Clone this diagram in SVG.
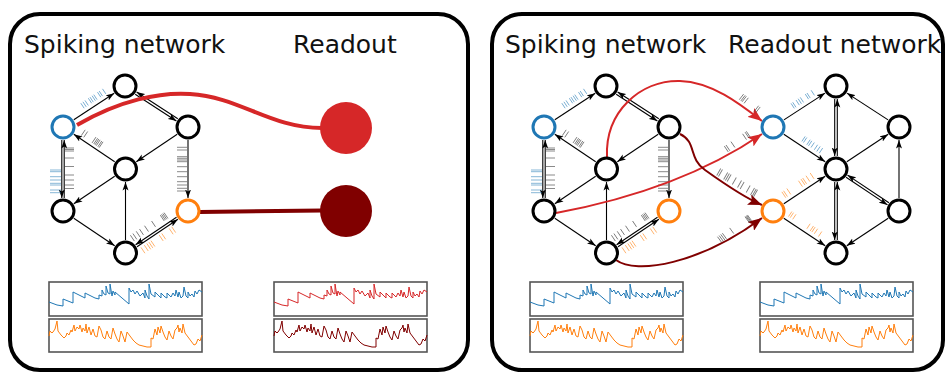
<svg xmlns="http://www.w3.org/2000/svg" xmlns:xlink="http://www.w3.org/1999/xlink" width="945" height="372" viewBox="0 0 945 372">
  <style>
    .panel { fill: none; stroke: #000; stroke-width: 4; }
    .title { font-family: "DejaVu Sans", "Liberation Sans", sans-serif; font-size: 25px; fill: #111; }
    .node { fill: #fff; stroke: #000; stroke-width: 3; }
    .node.blue { stroke: #1f77b4; }
    .node.orange { stroke: #ff7f0e; }
    .edges line { stroke: #000; stroke-width: 1.1; marker-end: url(#ah); }
    .tb { fill: none; stroke: #1f77b4; stroke-width: 0.9; opacity: 0.6; }
    .to { fill: none; stroke: #ff7f0e; stroke-width: 0.9; opacity: 0.6; }
    .tg { fill: none; stroke: #444; stroke-width: 0.9; opacity: 0.7; }
    .box { fill: none; stroke: #555; stroke-width: 1.6; }
    .trace { fill: none; stroke-width: 1; stroke-linejoin: round; }
  </style>
  <defs>
    <marker id="ah" markerUnits="userSpaceOnUse" viewBox="0 0 9 7" markerWidth="9" markerHeight="7" refX="8.5" refY="3.5" orient="auto">
      <path d="M0,0.5 L8.5,3.5 L0,6.5 L2,3.5z" fill="#000"/>
    </marker>
    <marker id="ahR" markerUnits="userSpaceOnUse" viewBox="0 0 14 11" markerWidth="14" markerHeight="11" refX="14" refY="5.5" orient="auto">
      <path d="M0,0 L14,5.5 L0,11 L3,5.5z" fill="#d62728"/>
    </marker>
    <marker id="ahM" markerUnits="userSpaceOnUse" viewBox="0 0 14 11" markerWidth="14" markerHeight="11" refX="14" refY="5.5" orient="auto">
      <path d="M0,0 L14,5.5 L0,11 L3,5.5z" fill="#800000"/>
    </marker>
    <!-- membrane potential traces, local box coordinates 153 x 34 -->
    <path id="trA" class="trace" d="M0,20 L8,23 L14,24 L14,17 L24,21 L24,10 L36,16 L36,11 L46,16 L50,17 L50,13 L53,14 L53,8 L55,12 L57,13 L57,4 L59,11 L61,12 L61,2 L63,14 L64,9 L66,13 L66,10 L80,22 L80,6 L82,10 L84,8 L86,12 L88,9 L91,14 L94,11 L96,16 L96,8 L98,14 L100,17 L100,2 L102,12 L106,15 L106,10 L110,14 L112,16 L112,11 L116,15 L118,16 L118,11 L122,15 L124,11 L126,14 L127,8 L129,15 L130,10 L132,16 L134,14 L135,5 L137,14 L139,16 L139,10 L141,14 L143,12 L145,15 L146,9 L148,12 L150,8 L153,10"/>
    <path id="trB" class="trace" d="M0,17 L1,12 L3,14 L4,13 L6,10 L8,2 L9,12 L12,16 L15,19 L17,17 L18,14 L20,16 L22,11 L23,13 L25,6 L26,12 L28,8 L30,10 L31,6 L33,13 L34,9 L36,12 L37,5 L38,14 L40,8 L42,16 L44,10 L46,17 L48,18 L50,7 L52,11 L54,18 L56,20 L58,12 L60,18 L62,20 L64,9 L66,15 L68,20 L70,23 L72,12 L74,17 L76,23 L78,13 L81,17 L84,21 L87,24 L90,26 L94,27 L98,28 L102,28 L102,19 L104,20 L106,10 L108,16 L109,8 L111,14 L112,7 L114,13 L116,18 L118,21 L120,12 L122,17 L124,20 L126,11 L128,9 L129,6 L130,13 L131,9 L133,14 L134,5 L136,14 L139,18 L142,22 L145,26 L147,25 L149,20 L151,22 L153,16"/>
  </defs>

  <rect x="0" y="0" width="945" height="372" fill="#fff"/>

  <!-- panels -->
  <rect class="panel" x="10" y="14" width="458" height="356" rx="30"/>
  <rect class="panel" x="492" y="14" width="451" height="356" rx="30"/>

  <text class="title" x="24" y="53">Spiking network</text>
  <text class="title" x="293" y="53">Readout</text>
  <text class="title" x="505" y="53">Spiking network</text>
  <text class="title" x="728" y="53">Readout network</text>

  <g id="connectors">
    <!-- spiking network connections with spike rasters -->
    <g id="edgesL" class="edges">
      <line x1="73.8" y1="119.8" x2="114.2" y2="93.2"/>
      <line x1="135.2" y1="94.2" x2="176.4" y2="121"/>
      <line x1="177.8" y1="118.8" x2="136.6" y2="92"/>
      <line x1="177.2" y1="134.3" x2="136.3" y2="161.7"/>
      <line x1="114.7" y1="161.7" x2="73.8" y2="134.3"/>
      <line x1="61.8" y1="140" x2="61.8" y2="198"/>
      <line x1="64.2" y1="198" x2="64.2" y2="140"/>
      <line x1="114.7" y1="176.3" x2="73.8" y2="203.7"/>
      <line x1="73.8" y1="218.3" x2="114.7" y2="245.7"/>
      <line x1="125.5" y1="240" x2="125.5" y2="182"/>
      <line x1="188" y1="140" x2="188" y2="198"/>
      <line x1="137" y1="246.8" x2="177.9" y2="219.3"/>
      <line x1="176.5" y1="217.2" x2="135.6" y2="244.7"/>
      <g transform="translate(63,127) rotate(-33.5)">
        <path class="tb" d="M28,-10v6M30.5,-10v6M33,-10v6M37,-10v6M39,-10v6M41.5,-10v6M43.5,-10v6M48,-10v6M50,-10v6M54,-10v6"/>
      </g>
      <g transform="translate(63,127) rotate(33.9)">
        <path class="tg" d="M20,-10v7M23,-10v7M33,-10v7M35,-10v7M36.5,-10v7M38,-10v7M40,-10v7M41.5,-10v7"/>
      </g>
      <path class="tb" d="M50,170h11M50,171.7h11M50,176.7h11M50,180h11M50,183.3h11M50,185h11M50,190h11M50,192.7h11"/>
      <path class="tg" d="M65,148h9M65,149.5h9M65,151h9M65,158h9M65,166.5h9M65,175h9M65,180h9M65,185h9M65,188.5h9"/>
      <path class="tg" d="M177,147.3h10M177,150h10M177,156.7h10M177,158.3h10M177,160h10M177,161.7h10M177,166.7h10M177,171.7h10M177,176.7h10M177,181.7h10M177,185h10M177,188.3h10M177,191h10"/>
      <g transform="translate(125.5,253) rotate(-33.9)">
        <path class="tg" d="M14,-12v7M17,-12v7M21,-12v7M25,-12v7M31,-12v7M39.5,-12v7M50,-12v7M51.5,-12v7M53,-12v7M54.5,-12v7"/>
        <path class="to" d="M16,4v7M20,4v7M23,4v7M25.5,4v7M28,4v7M38,4v7M41,4v7M50,4v7M53,4v7"/>
      </g>
    </g>
    <use xlink:href="#edgesL" href="#edgesL" transform="translate(481,0)"/>

    <!-- readout network connections -->
    <g id="edgesR" class="edges">
      <line x1="783.9" y1="119.9" x2="825.1" y2="93.1"/>
      <line x1="783.8" y1="134.2" x2="825.2" y2="161.8"/>
      <line x1="783.8" y1="203.8" x2="825.2" y2="176.2"/>
      <line x1="783.8" y1="218.2" x2="825.2" y2="245.8"/>
      <line x1="834.7" y1="99" x2="834.7" y2="156"/>
      <line x1="837.3" y1="156" x2="837.3" y2="99"/>
      <line x1="834.7" y1="182" x2="834.7" y2="240"/>
      <line x1="837.3" y1="240" x2="837.3" y2="182"/>
      <line x1="846.1" y1="177.3" x2="887.5" y2="204.9"/>
      <line x1="888.9" y1="202.7" x2="847.5" y2="175.1"/>
      <line x1="888.1" y1="119.9" x2="846.9" y2="93.1"/>
      <line x1="846.8" y1="161.8" x2="888.2" y2="134.2"/>
      <line x1="899" y1="198" x2="899" y2="140"/>
      <line x1="888.2" y1="218.2" x2="846.8" y2="245.8"/>
      <g transform="translate(773,127) rotate(-33)">
        <path class="tb" d="M28,-10v6M30,-10v6M34,-10v6M36.5,-10v6M39,-10v6M45,-10v6M47,-10v6M52,-10v6"/>
      </g>
      <g transform="translate(773,127) rotate(33.7)">
        <path class="tb" d="M32,-10v6M34,-10v6M38,-10v6M40,-10v6M43,-10v6M47,-10v6M50,-10v6M53,-10v6"/>
      </g>
      <g transform="translate(773,211) rotate(-33.7)">
        <path class="to" d="M18,-11v7M20,-11v7M24,-11v7M38,-11v7M41,-11v7M43,-11v7M47,-11v7M52,-11v7"/>
      </g>
      <g transform="translate(773,211) rotate(33.7)">
        <path class="to" d="M16,-10v6M18,-10v6M21,-10v6M38,-10v6M42,-10v6M44,-10v6M47,-10v6M52,-10v6"/>
      </g>
    </g>

    <!-- readout connections, left panel -->
    <path d="M77,125 C120,100 160,92 190,94 C240,97 270,128 322,128" fill="none" stroke="#d62728" stroke-width="4"/>
    <path d="M200,212 L322,210.5" fill="none" stroke="#800000" stroke-width="4"/>

    <!-- readout connections, right panel -->
    <path d="M607,157 C605,112 640,80 680,81 C712,82 740,104 762,121" fill="none" stroke="#d62728" stroke-width="2" marker-end="url(#ahR)"/>
    <path d="M556,213 Q680,190 762,134" fill="none" stroke="#d62728" stroke-width="2" marker-end="url(#ahR)"/>
    <path d="M680,134 C697,142 688,158 705,170 C726,185 745,198 762,205" fill="none" stroke="#800000" stroke-width="2" marker-end="url(#ahM)"/>
    <path d="M616,260 C636,275 700,264 762,218" fill="none" stroke="#800000" stroke-width="2" marker-end="url(#ahM)"/>
    <g transform="translate(762,121) rotate(37.7)">
      <path class="tg" d="M-31,-10v7M-29,-10v7M-27.5,-10v7M-25,-10v7M-12,-10v7M-10,-10v7"/>
    </g>
    <g transform="translate(762,134) rotate(-34)">
      <path class="tg" d="M-38,-11v7M-36,-11v7M-30,-11v7M-16,-11v7M-13,-11v7M-11.5,-11v7"/>
    </g>
    <g transform="translate(762,205) rotate(30)">
      <path class="tg" d="M-54,-11v8M-52,-11v8M-46,-11v8M-44,-11v8M-42,-11v8M-36,-11v8M-30,-11v8M-27,-11v8M-20,-11v8M-15,-11v8M-13,-11v8M-11.5,-11v8"/>
    </g>
    <g transform="translate(762,218) rotate(-36)">
      <path class="tg" d="M-47,-11v7M-45,-11v7M-43,-11v7M-41,-11v7M-32,-11v7M-13,-11v7M-12,-11v7M-11,-11v7M-10,-11v7"/>
    </g>
  </g>

  <!-- spiking network, left panel -->
  <g id="L-top"><circle class="node" cx="125" cy="86" r="11"/></g>
  <g id="L-upper-left"><circle class="node blue" cx="63" cy="127" r="11"/></g>
  <g id="L-upper-right"><circle class="node" cx="188" cy="127" r="11"/></g>
  <g id="L-center"><circle class="node" cx="125.5" cy="169" r="11"/></g>
  <g id="L-lower-left"><circle class="node" cx="63" cy="211" r="11"/></g>
  <g id="L-lower-right"><circle class="node orange" cx="188" cy="211" r="11"/></g>
  <g id="L-bottom"><circle class="node" cx="125.5" cy="253" r="11"/></g>

  <!-- readout units, left panel -->
  <g id="readout-red"><circle cx="346" cy="128" r="26" fill="#d62728"/></g>
  <g id="readout-maroon"><circle cx="346" cy="211" r="26" fill="#800000"/></g>

  <!-- spiking network, right panel -->
  <g id="R-top"><circle class="node" cx="606" cy="86" r="11"/></g>
  <g id="R-upper-left"><circle class="node blue" cx="544" cy="127" r="11"/></g>
  <g id="R-upper-right"><circle class="node" cx="669" cy="127" r="11"/></g>
  <g id="R-center"><circle class="node" cx="606.5" cy="169" r="11"/></g>
  <g id="R-lower-left"><circle class="node" cx="544" cy="211" r="11"/></g>
  <g id="R-lower-right"><circle class="node orange" cx="669" cy="211" r="11"/></g>
  <g id="R-bottom"><circle class="node" cx="606.5" cy="253" r="11"/></g>

  <!-- readout network, right panel -->
  <g id="O-blue"><circle class="node blue" cx="773" cy="127" r="11"/></g>
  <g id="O-orange"><circle class="node orange" cx="773" cy="211" r="11"/></g>
  <g id="O-top"><circle class="node" cx="836" cy="86" r="11"/></g>
  <g id="O-center"><circle class="node" cx="836" cy="169" r="11"/></g>
  <g id="O-bottom"><circle class="node" cx="836" cy="253" r="11"/></g>
  <g id="O-upper-right"><circle class="node" cx="899" cy="127" r="11"/></g>
  <g id="O-lower-right"><circle class="node" cx="899" cy="211" r="11"/></g>

  <!-- activity traces -->
  <g id="traces">
    <rect class="box" x="49" y="282" width="153" height="34"/>
    <rect class="box" x="49" y="319" width="153" height="33"/>
    <use xlink:href="#trA" href="#trA" x="49" y="282" stroke="#1f77b4"/>
    <use xlink:href="#trB" href="#trB" x="49" y="319" stroke="#ff7f0e"/>

    <rect class="box" x="274" y="282" width="153" height="34"/>
    <rect class="box" x="274" y="319" width="153" height="33"/>
    <use xlink:href="#trA" href="#trA" x="274" y="282" stroke="#d62728"/>
    <use xlink:href="#trB" href="#trB" x="274" y="319" stroke="#800000"/>

    <rect class="box" x="530" y="282" width="153" height="34"/>
    <rect class="box" x="530" y="319" width="153" height="33"/>
    <use xlink:href="#trA" href="#trA" x="530" y="282" stroke="#1f77b4"/>
    <use xlink:href="#trB" href="#trB" x="530" y="319" stroke="#ff7f0e"/>

    <rect class="box" x="760" y="282" width="153" height="34"/>
    <rect class="box" x="760" y="319" width="153" height="33"/>
    <use xlink:href="#trA" href="#trA" x="760" y="282" stroke="#1f77b4"/>
    <use xlink:href="#trB" href="#trB" x="760" y="319" stroke="#ff7f0e"/>
  </g>
</svg>
